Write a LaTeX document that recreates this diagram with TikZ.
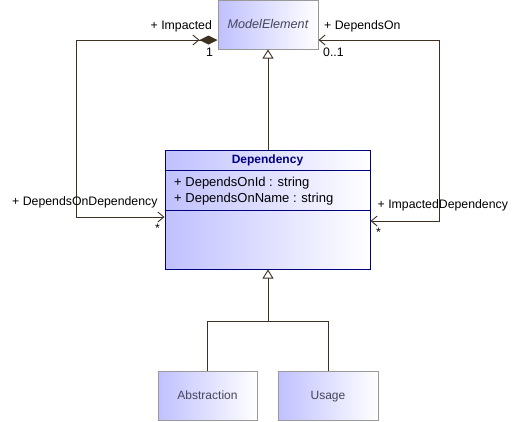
\documentclass[tikz,border=0pt]{standalone}
\usepackage{fontspec}
\setmainfont{Liberation Sans}
\usetikzlibrary{arrows.meta}
\definecolor{linec}{HTML}{3F3122}
\definecolor{grayb}{HTML}{999999}
\definecolor{navyb}{HTML}{000080}
\definecolor{lav}{HTML}{C0C0FF}
\definecolor{graytext}{HTML}{45455A}
\tikzset{
  box/.style={rectangle, draw=grayb, line width=1pt, left color=lav, right color=white, inner sep=0pt, text=graytext, font=\fontsize{12}{14}\selectfont, text height=8.6pt, text depth=0pt},
  classbox/.style={rectangle, draw=navyb, line width=1pt, left color=lav, right color=white, inner sep=0pt},
  conn/.style={draw=linec, line width=0.9pt},
  barb/.style={-{Straight Barb[length=6pt,width=10pt,line width=0.9pt]}},
  lbl/.style={font=\fontsize{12.3}{14}\selectfont, inner sep=0pt, text=black},
  attr/.style={font=\fontsize{13}{15}\selectfont, inner sep=0pt, anchor=base west, text=black},
  gen/.style={-{Triangle[open, length=9pt, width=11pt, fill=white, line width=0.9pt]}}
}
\begin{document}
\begin{tikzpicture}[x=1pt,y=-1pt]
\useasboundingbox (0,0) rectangle (520,421);
% boxes
\node[box, minimum width=100pt, minimum height=49pt, font=\fontsize{12.6}{14}\selectfont\itshape] (me) at (268,24.5) {ModelElement};
\node[classbox, minimum width=205pt, minimum height=119pt] (dep) at (267.5,209.5) {};
\node[box, minimum width=99pt, minimum height=49pt] (abs) at (207.5,395.5) {Abstraction};
\node[box, minimum width=100pt, minimum height=49pt] (use) at (328,395.5) {Usage};
% dependency contents
\node[font=\fontsize{12}{14}\selectfont\bfseries, text=navyb, inner sep=0pt, anchor=base] (dtitle) at (267.5,163.6) {Dependency};
\draw[navyb, line width=1pt] (dep.west |- 0,170) coordinate (s1a) -- (dep.east |- 0,170) coordinate (s1b);
\node[attr] (a1) at (174,186.8) {+ DependsOnId : string};
\node[attr] (a2) at (174,202.8) {+ DependsOnName : string};
\draw[navyb, line width=1pt] (dep.west |- 0,210) coordinate (s2a) -- (dep.east |- 0,210) coordinate (s2b);
% connector coordinates
\coordinate (lt) at (76,40);
\coordinate (lb) at (76,217);
\coordinate (rt) at (439,40);
\coordinate (rb) at (439,221);
\coordinate (j) at (268,321);
\coordinate (ja) at (abs.north |- j);
\coordinate (ju) at (use.north |- j);
% left association
\draw[conn, -{Diamond[length=18pt,width=9pt,fill=linec,line width=0.9pt]}] (lt) -- (me.west |- lt);
\draw[conn, barb, shorten >=18pt] (lt) -- (me.west |- lt);
\draw[conn, barb] (lt) -- (lb) -- (dep.west |- lb);
% right association
\draw[conn, {Straight Barb[length=6pt,width=10pt,line width=0.9pt]}-{Straight Barb[length=6pt,width=10pt,line width=0.9pt]}] (me.east |- rt) -- (rt) -- (rb) -- (dep.east |- rb);
% generalizations
\draw[conn, gen] (dep.north -| me.south) -- (me.south);
\draw[conn] (abs.north) -- (ja);
\draw[conn] (ja) -- (ju);
\draw[conn] (ju) -- (use.north);
\draw[conn, gen] (j) -- (j |- dep.south);
% labels
\node[lbl, anchor=base west] (l1) at (150.5,29.3) {+ Impacted};
\node[lbl, anchor=base] (l2) at (209.5,56.3) {1};
\node[lbl, anchor=base west] (l3) at (324,29.3) {+ DependsOn};
\node[lbl, anchor=base west] (l4) at (323,56.3) {0..1};
\node[lbl, anchor=base west] (l5) at (12,205.3) {+ DependsOnDependency};
\node[lbl, anchor=base] (l6) at (157.5,232.5) {*};
\node[lbl, anchor=base west] (l7) at (377.5,208.6) {+ ImpactedDependency};
\node[lbl, anchor=base] (l8) at (378.5,236.5) {*};
\end{tikzpicture}
\end{document}
